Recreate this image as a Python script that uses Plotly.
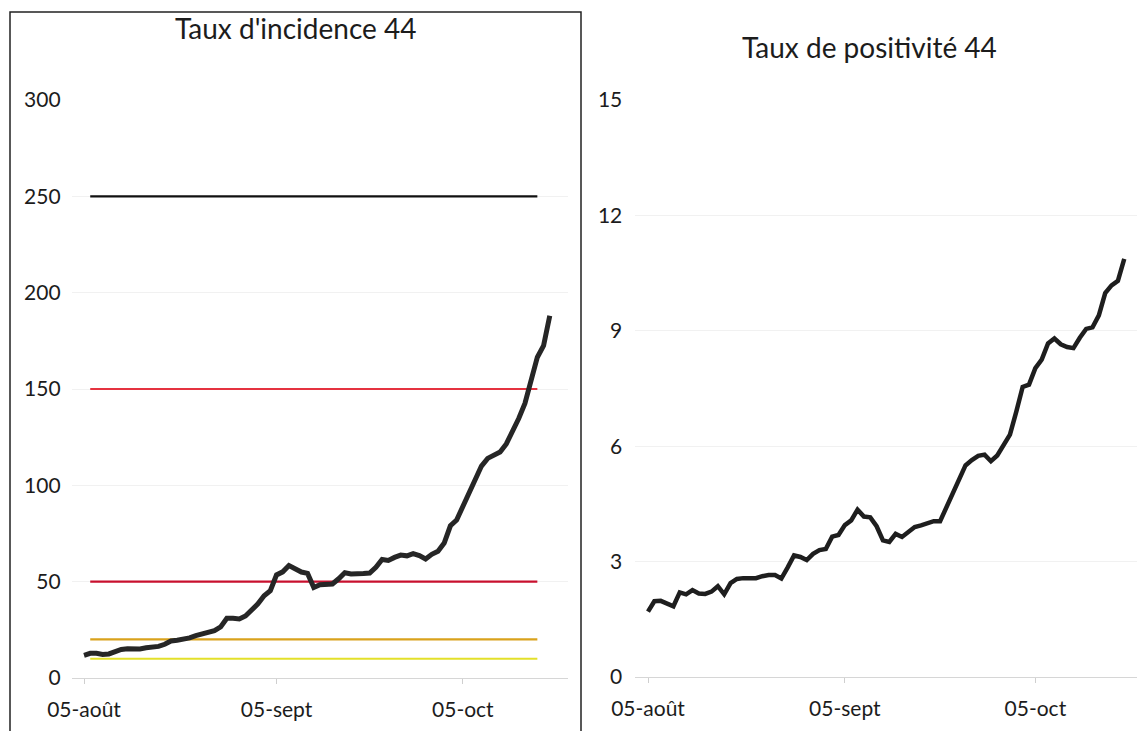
import plotly.graph_objects as go
import pandas as pd

# ---------------- data ----------------
dates = pd.date_range("2020-08-05", periods=76, freq="D")

incidence = [11.8, 12.8, 12.8, 12.2, 12.5, 14.0, 14.8, 15.2, 15.0, 15.1,
             15.7, 16.0, 16.4, 17.5, 19.2, 19.6, 20.0, 20.8, 22.0, 23.0,
             24.2, 24.6, 26.5, 31.0, 31.0, 30.6, 32.2, 35.0, 38.5, 42.7,
             45.3, 53.5, 55.1, 58.4, 56.5, 55.0, 54.3, 47.0, 48.4, 48.8,
             48.8, 51.5, 54.6, 54.0, 53.8, 54.2, 54.5, 57.5, 61.5, 61.0,
             62.6, 63.8, 63.4, 64.6, 63.5, 61.8, 64.2, 65.8, 70.0, 79.0,
             82.0, 89.0, 96.5, 102.8, 110.0, 114.0, 115.4, 117.3, 121.5, 127.8,
             134.7, 142.5, 155.0, 166.5, 172.5, 188.0]

positivite = [1.70, 1.97, 1.98, 1.90, 1.84, 2.20, 2.15, 2.26, 2.17, 2.16,
              2.22, 2.36, 2.15, 2.44, 2.55, 2.57, 2.57, 2.57, 2.62, 2.65,
              2.65, 2.56, 2.85, 3.16, 3.12, 3.04, 3.20, 3.30, 3.33, 3.65,
              3.69, 3.95, 4.07, 4.35, 4.17, 4.15, 3.92, 3.55, 3.51, 3.72,
              3.64, 3.76, 3.90, 3.94, 4.00, 4.05, 4.05, 4.40, 4.75, 5.10,
              5.50, 5.64, 5.75, 5.78, 5.61, 5.76, 6.05, 6.30, 6.90, 7.54,
              7.60, 8.03, 8.25, 8.67, 8.80, 8.65, 8.58, 8.55, 8.82, 9.05,
              9.09, 9.40, 9.98, 10.18, 10.30, 10.87]

seuils = [10, 20, 50, 150, 250]
seuil_colors = ["#e3e02a", "#d9a21c", "#c8102e", "#e53340", "#111111"]
seuil_dates = ["2020-08-06", "2020-10-17"]

xtick_vals = ["2020-08-05", "2020-09-05", "2020-10-05"]
xtick_text = ["05-août", "05-sept", "05-oct"]
inc_ticks = [0, 50, 100, 150, 200, 250, 300]
pos_ticks = [0, 3, 6, 9, 12, 15]

title_left = "Taux d'incidence 44"
title_right = "Taux de positivité 44"

# ---------------- figure ----------------
# page body has an 8px margin: the figure is sized to fit the window exactly
OFF = 8
W, H = 1145 - OFF, 731 - OFF
FONT = "Lato"
TXT = "#1c1c1c"

fig = go.Figure()

for v, c in zip(seuils, seuil_colors):
    fig.add_trace(go.Scatter(x=seuil_dates, y=[v, v], mode="lines",
                             line=dict(color=c, width=2.2),
                             xaxis="x", yaxis="y", showlegend=False,
                             hoverinfo="skip"))

fig.add_trace(go.Scatter(x=dates, y=incidence, mode="lines",
                         line=dict(color="#262626", width=5),
                         xaxis="x", yaxis="y", showlegend=False))

fig.add_trace(go.Scatter(x=dates, y=positivite, mode="lines",
                         line=dict(color="#1e1e1e", width=4.5),
                         xaxis="x2", yaxis="y2", showlegend=False))


def px(x):
    """window x-pixel -> paper fraction"""
    return (x - OFF) / W


def py(y):
    """window y-pixel (from top) -> paper fraction (from bottom)"""
    return (H - (y - OFF)) / H


xcommon = dict(type="date", tickvals=xtick_vals, ticktext=xtick_text,
               ticks="outside", ticklen=5, tickcolor="#cfcfcf",
               showline=True, linecolor="#d6d6d6", linewidth=1,
               showgrid=False, zeroline=False, automargin=False,
               tickfont=dict(family=FONT, size=21, color=TXT),
               ticklabelstandoff=8, fixedrange=True)
ycommon = dict(showline=False, ticks="", showgrid=True, gridcolor="#f1f1f1",
               zeroline=False, automargin=False,
               tickfont=dict(family=FONT, size=21, color=TXT),
               fixedrange=True)

fig.update_layout(
    template="none",
    width=W, height=H, autosize=False,
    margin=dict(l=0, r=0, t=0, b=0, pad=0),
    paper_bgcolor="white", plot_bgcolor="rgba(0,0,0,0)",
    xaxis=dict(xcommon, domain=[px(71.6), px(568.4)],
               range=["2020-08-03", "2020-10-22"], anchor="y"),
    yaxis=dict(ycommon, domain=[py(678), py(100)], range=[0, 300],
               tickvals=inc_ticks, anchor="x", ticklabelstandoff=10),
    xaxis2=dict(xcommon, domain=[px(635.3), px(1143.3)],
                range=["2020-08-03", "2020-10-22"], anchor="y2"),
    yaxis2=dict(ycommon, domain=[py(677), py(100)], range=[0, 15],
                tickvals=pos_ticks, anchor="x2", ticklabelstandoff=12),
    annotations=[
        dict(text=title_left, x=px(295), y=py(28), xref="paper", yref="paper",
             showarrow=False, xanchor="center", yanchor="middle",
             font=dict(family=FONT, size=28, color=TXT)),
        dict(text=title_right, x=px(869), y=py(47), xref="paper", yref="paper",
             showarrow=False, xanchor="center", yanchor="middle",
             font=dict(family=FONT, size=28, color=TXT)),
    ],
    shapes=[
        dict(type="rect", xref="paper", yref="paper",
             x0=px(10), x1=px(581), y0=-0.05, y1=py(12),
             line=dict(color="#222222", width=1.5), fillcolor="rgba(0,0,0,0)",
             layer="below"),
    ],
)

fig.write_html("out.html")
